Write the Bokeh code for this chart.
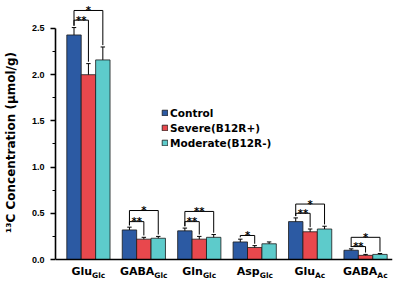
from bokeh.plotting import figure
from bokeh.models import Range1d, FixedTicker, Label, Legend, LegendItem, NumeralTickFormatter
from bokeh.embed import file_html
from bokeh.resources import INLINE
from bokeh.core.properties import value

# ---------------- data ----------------
groups = ["Glu", "GABA", "Gln", "Asp", "Glu", "GABA"]
group_subs = ["Glc", "Glc", "Glc", "Glc", "Ac", "Ac"]
series_names = ["Control", "Severe(B12R+)", "Moderate(B12R-)"]
series_colors = ["#2C5AA3", "#E8484D", "#5DCBCB"]
control = [2.43, 0.32, 0.31, 0.19, 0.41, 0.10]
severe = [2.00, 0.22, 0.22, 0.13, 0.30, 0.045]
moderate = [2.16, 0.23, 0.24, 0.17, 0.33, 0.055]
control_err = [0.08, 0.03, 0.03, 0.03, 0.04, 0.015]
severe_err = [0.12, 0.02, 0.03, 0.02, 0.03, 0.01]
moderate_err = [0.14, 0.02, 0.03, 0.02, 0.03, 0.01]
# significance brackets: group, bar a, bar b, height, label
br_group = [0, 0, 1, 1, 2, 2, 3, 4, 4, 5, 5]
br_a = [0, 0, 0, 0, 0, 0, 0, 0, 0, 0, 0]
br_b = [1, 2, 1, 2, 1, 2, 1, 1, 2, 1, 2]
br_y = [2.59, 2.695, 0.41, 0.53, 0.41, 0.52, 0.26, 0.50, 0.60, 0.14, 0.24]
br_label = ["**", "*", "**", "*", "**", "**", "*", "**", "*", "**", "*"]
y_ticks = [0.0, 0.5, 1.0, 1.5, 2.0, 2.5]
y_title = "\u00b9\u00b3C Concentration (\u03bcmol/g)"

# ---------------- layout constants ----------------
W, H = 400, 284
BL, BR, BT, BB = 54, 8, 0, 0
frame_w = W - BL - BR
x_start, x_end = -0.594, 5.486
y_end = 2.803
px_x = frame_w / (x_end - x_start)
px_y = 259 / y_end
y_start = -(H - 259) / px_y
bar_w = 0.26
offsets = [-bar_w, 0.0, bar_w]
FONT = "DejaVu Sans"

p = figure(width=W, height=H, output_backend="svg", toolbar_location=None,
           x_range=Range1d(x_start, x_end), y_range=Range1d(y_start, y_end),
           min_border_left=BL, min_border_right=BR, min_border_top=BT,
           min_border_bottom=BB)
p.outline_line_color = None
p.xgrid.grid_line_color = None
p.ygrid.grid_line_color = None
p.background_fill_color = "white"
p.border_fill_color = "white"

# x axis sits at y = 0 inside the frame
p.xaxis.fixed_location = 0
p.xaxis.ticker = FixedTicker(ticks=[])
p.xaxis.axis_line_color = "black"
p.xaxis.axis_line_width = 1.6
p.xaxis.major_tick_line_color = None
p.xaxis.minor_tick_line_color = None
p.xaxis.major_tick_out = 0
p.xaxis.major_label_standoff = 0
p.xaxis.major_label_text_font_size = "0px"

minor = [(a + b) / 2 for a, b in zip(y_ticks[:-1], y_ticks[1:])]
p.yaxis.ticker = FixedTicker(ticks=y_ticks, minor_ticks=minor)
p.yaxis.bounds = (y_ticks[0], y_ticks[-1])
p.yaxis.formatter = NumeralTickFormatter(format="0.0")
p.yaxis.axis_line_color = "black"
p.yaxis.axis_line_width = 1.6
p.yaxis.major_tick_out = 5
p.yaxis.major_tick_in = 0
p.yaxis.minor_tick_out = 3
p.yaxis.minor_tick_in = 0
p.yaxis.major_tick_line_width = 1.3
p.yaxis.minor_tick_line_width = 1.0
p.yaxis.major_tick_line_color = "black"
p.yaxis.minor_tick_line_color = "black"
p.yaxis.major_label_text_font = "Liberation Sans"
p.yaxis.major_label_text_font_style = "bold"
p.yaxis.major_label_text_font_size = "9px"
p.yaxis.major_label_text_color = "black"
p.yaxis.major_label_standoff = 6
p.yaxis.axis_label = y_title
p.yaxis.axis_label_text_font = FONT
p.yaxis.axis_label_text_font_style = "bold"
p.yaxis.axis_label_text_font_size = "12px"
p.yaxis.axis_label_text_color = "black"
p.yaxis.axis_label_standoff = 11

# bars
series_vals = [control, severe, moderate]
series_errs = [control_err, severe_err, moderate_err]
renderers = []
for k in range(3):
    xs = [i + offsets[k] for i in range(len(groups))]
    r = p.vbar(x=xs, top=series_vals[k], width=bar_w, bottom=0,
               fill_color=series_colors[k], line_color="#1b1b1b", line_width=0.8)
    renderers.append(r)
    tops = [v + e for v, e in zip(series_vals[k], series_errs[k])]
    p.segment(x0=xs, y0=series_vals[k], x1=xs, y1=tops, line_color="black", line_width=1)
    cap = 0.04
    p.segment(x0=[x - cap for x in xs], y0=tops, x1=[x + cap for x in xs], y1=tops,
              line_color="black", line_width=1)

# significance brackets
gap = 0.02
hx0, hx1, hy = [], [], []
lx, ly0, ly1 = [], [], []
mids = []
for g, a, b, y in zip(br_group, br_a, br_b, br_y):
    xa = g + offsets[a]
    xb = g + offsets[b]
    hx0.append(xa); hx1.append(xb); hy.append(y)
    mids.append((xa + xb) / 2)
    for idx, xx in ((a, xa), (b, xb)):
        top = series_vals[idx][g] + series_errs[idx][g] + gap
        lx.append(xx); ly0.append(y); ly1.append(top)
p.segment(x0=hx0, y0=hy, x1=hx1, y1=hy, line_color="black", line_width=1)
p.segment(x0=lx, y0=ly0, x1=lx, y1=ly1, line_color="black", line_width=1)
p.text(x=mids, y=br_y, text=br_label, text_align="center", text_baseline="alphabetic",
       text_font=value(FONT), text_font_style="bold", text_font_size="10px",
       text_color="black")

# category labels with subscripts
widths = {"G": .775, "l": .343, "u": .712, "A": .774, "B": .762, "n": .712,
          "s": .595, "p": .716, "c": .593}
def tw(s, size):
    return sum(widths.get(ch, .65) for ch in s) * size

main_size, sub_size = 11, 7.5
for i, (g, s) in enumerate(zip(groups, group_subs)):
    wm, ws = tw(g, main_size), tw(s, sub_size)
    anchor = i + ((wm - ws) / 2) / px_x
    p.add_layout(Label(x=anchor, y=-11.5 / px_y, text=g, text_align="right",
                       text_baseline="middle", text_font=FONT, text_font_style="bold",
                       text_font_size=f"{main_size}px", text_color="black"))
    p.add_layout(Label(x=anchor, y=-15.5 / px_y, text=s, text_align="left",
                       text_baseline="middle", text_font=FONT, text_font_style="bold",
                       text_font_size=f"{sub_size}px", text_color="black"))

# legend
legend = Legend(items=[LegendItem(label=n, renderers=[r]) for n, r in zip(series_names, renderers)],
                location=(106, 135), orientation="vertical",
                glyph_width=7, glyph_height=7, label_height=13, spacing=2,
                label_standoff=2, padding=0, margin=0,
                label_text_font=FONT, label_text_font_style="bold",
                label_text_font_size="10.5px", label_text_color="black",
                border_line_color=None, background_fill_alpha=0)
p.add_layout(legend)

open("out.html", "w").write(file_html(p, INLINE))
